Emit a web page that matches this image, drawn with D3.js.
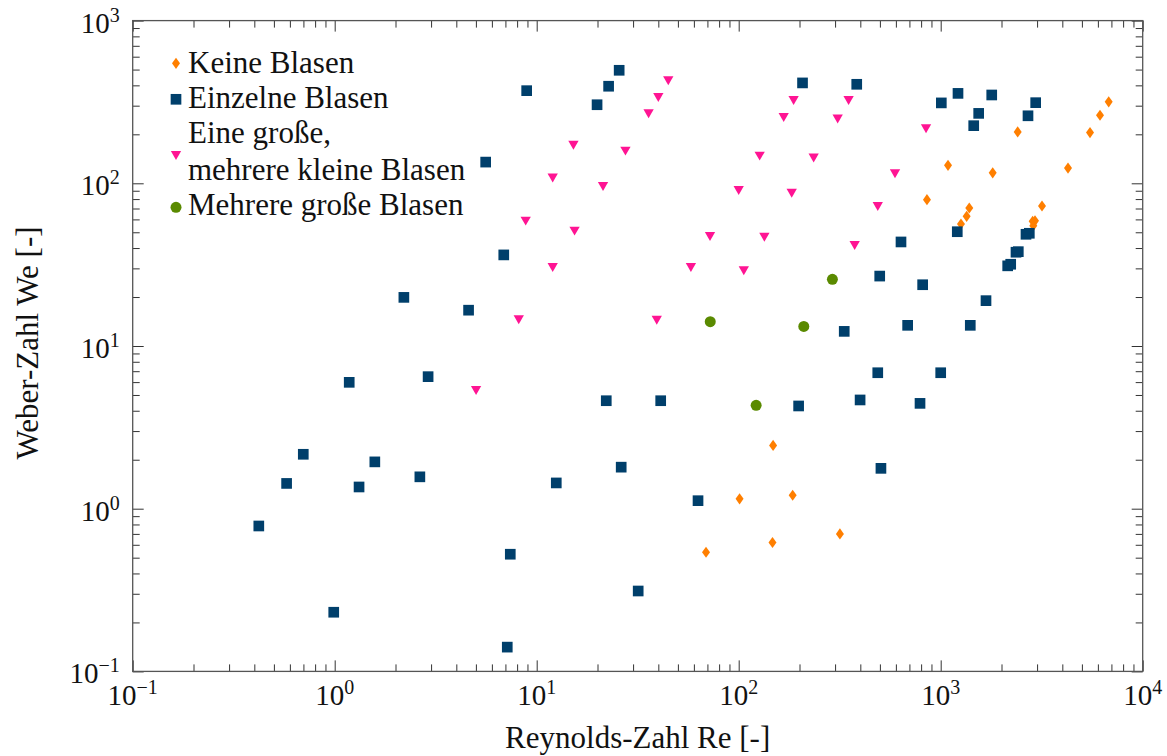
<!DOCTYPE html>
<html>
<head>
<meta charset="utf-8">
<script src="https://cdn.jsdelivr.net/npm/d3@7"></script>
<style>
  body { margin: 0; background: #fff; }
  svg { display: block; }
  svg text { font-family: "Liberation Serif", "DejaVu Serif", "Noto Serif", Tinos, FreeSerif, "Times New Roman", Times, serif; }
</style>
</head>
<body>
<script>
// Keine Blasen (orange diamonds)
var keineRe = [68.9, 101, 147, 148, 185, 317, 855, 1087, 1260, 1344, 1385, 1809, 2405, 2853, 2930, 2873, 3173, 4268, 5485, 6146, 6787]
var keineWe = [0.54, 1.15, 0.62, 2.45, 1.21, 0.70, 79.3, 129, 56.2, 62.7, 70.5, 116, 207, 58.4, 58.8, 54.9, 72.5, 124, 205, 262, 317]

// Einzelne Blasen (blue squares)
var einzelneRe = [0.421, 0.578, 0.699, 0.989, 1.18, 1.32, 1.58, 2.20, 2.64, 2.90, 4.60, 5.59, 6.87, 7.15, 7.40, 8.92, 12.5, 19.9, 22.1, 22.7,
    25.6, 26.2, 31.8, 41.1, 62.9, 198, 207, 333, 384, 399, 488, 499, 506, 636, 686, 790, 814, 1000, 1007, 1208,
    1218, 1401, 1457, 1542, 1676, 1789, 2146, 2221, 2359, 2422, 2644, 2746, 2705, 2953]
var einzelneWe = [0.783, 1.43, 2.16, 0.231, 5.98, 1.36, 1.94, 19.9, 1.57, 6.48, 16.6, 135, 36.3, 0.141, 0.525, 371, 1.44, 304, 4.61, 395,
    495, 1.80, 0.312, 4.61, 1.12, 4.28, 414, 12.3, 406, 4.66, 6.85, 26.9, 1.77, 43.6, 13.4, 4.44, 23.8, 6.85, 312, 50.4,
    357, 13.4, 226, 269, 19.0, 349, 31.1, 31.8, 37.7, 38.0, 48.6, 49.3, 260, 313]

// Eine grosse, mehrere kleine Blasen (magenta triangles)
var eineGrosseRe = [5.01, 8.15, 8.82, 12.0, 12.0, 15.2, 15.4, 21.3, 27.5, 35.8, 39.3, 40.0, 44.8, 58.0, 72.1, 106, 100, 127, 134, 167,
    183, 187, 235, 309, 350, 375, 488, 594, 846]
var eineGrosseWe = [5.44, 14.8, 59.8, 110, 31.0, 175, 51.9, 97.6, 161, 273, 14.7, 344, 436, 31.0, 48.1, 29.6, 92.2, 150, 47.6, 259,
    88.8, 330, 146, 254, 330, 42.4, 73.5, 117, 221]

// Mehrere grosse Blasen (green circles)
var mehrereRe = [72.3, 122, 210, 291]
var mehrereWe = [14.1, 4.32, 13.2, 25.7]

var xTickExp = [-1, 0, 1, 2, 3, 4]
var yTickExp = [-1, 0, 1, 2, 3]

var legendLabels = [["Keine Blasen"], ["Einzelne Blasen"], ["Eine große,", "mehrere kleine Blasen"], ["Mehrere große Blasen"]]

var width = 1167, height = 756
var margin = {top: 20.6, right: 24.3, bottom: 84.6, left: 132.7}

var x = d3.scaleLog().domain([0.1, 1e4]).range([margin.left, width - margin.right])
var y = d3.scaleLog().domain([0.1, 1e3]).range([height - margin.bottom, margin.top])

var svg = d3.select("body").append("svg").attr("width", width).attr("height", height)

// tick positions
function minorTicks(lo, hi) {
    var out = []
    for (var e = lo; e < hi; e++) {
        for (var k = 2; k <= 9; k++) out.push(k * Math.pow(10, e))
    }
    return out
}
var xMajor = xTickExp.map(function (e) { return Math.pow(10, e) })
var yMajor = yTickExp.map(function (e) { return Math.pow(10, e) })
var xMinor = minorTicks(-1, 4)
var yMinor = minorTicks(-1, 3)

function noDomain(g) { g.select(".domain").remove() }

var axes = svg.append("g").attr("color", "#333").attr("stroke-width", 1)
axes.append("g").attr("transform", "translate(0," + y.range()[0] + ")")
    .call(d3.axisBottom(x).tickValues(xMajor).tickSize(-11).tickFormat("")).call(noDomain)
axes.append("g").attr("transform", "translate(0," + y.range()[0] + ")")
    .call(d3.axisBottom(x).tickValues(xMinor).tickSize(-7).tickFormat("")).call(noDomain)
axes.append("g").attr("transform", "translate(0," + y.range()[1] + ")")
    .call(d3.axisTop(x).tickValues(xMajor).tickSize(-11).tickFormat("")).call(noDomain)
axes.append("g").attr("transform", "translate(0," + y.range()[1] + ")")
    .call(d3.axisTop(x).tickValues(xMinor).tickSize(-7).tickFormat("")).call(noDomain)
axes.append("g").attr("transform", "translate(" + x.range()[0] + ",0)")
    .call(d3.axisLeft(y).tickValues(yMajor).tickSize(-11).tickFormat("")).call(noDomain)
axes.append("g").attr("transform", "translate(" + x.range()[0] + ",0)")
    .call(d3.axisLeft(y).tickValues(yMinor).tickSize(-7).tickFormat("")).call(noDomain)
axes.append("g").attr("transform", "translate(" + x.range()[1] + ",0)")
    .call(d3.axisRight(y).tickValues(yMajor).tickSize(-11).tickFormat("")).call(noDomain)
axes.append("g").attr("transform", "translate(" + x.range()[1] + ",0)")
    .call(d3.axisRight(y).tickValues(yMinor).tickSize(-7).tickFormat("")).call(noDomain)

svg.append("rect")
    .attr("x", x.range()[0]).attr("y", y.range()[1])
    .attr("width", x.range()[1] - x.range()[0]).attr("height", y.range()[0] - y.range()[1])
    .attr("fill", "none").attr("stroke", "#555").attr("stroke-width", 1.3)

// tick labels 10^n
function powLabel(sel, e) {
    sel.append("tspan").text("10")
    sel.append("tspan").attr("dy", -11).attr("font-size", 20).text(e < 0 ? "\u2212" + (-e) : e)
}
svg.selectAll(".xlab").data(xTickExp).enter().append("text")
    .attr("class", "xlab")
    .attr("x", function (d) { return x(Math.pow(10, d)) })
    .attr("y", y.range()[0] + 34)
    .attr("text-anchor", "middle").attr("font-size", 29).attr("fill", "#111")
    .each(function (d) { powLabel(d3.select(this), d) })
svg.selectAll(".ylab").data(yTickExp).enter().append("text")
    .attr("class", "ylab")
    .attr("x", x.range()[0] - 13)
    .attr("y", function (d) { return y(Math.pow(10, d)) + 12 })
    .attr("text-anchor", "end").attr("font-size", 29).attr("fill", "#111")
    .each(function (d) { powLabel(d3.select(this), d) })

svg.append("text").attr("x", (x.range()[0] + x.range()[1]) / 2).attr("y", 748)
    .attr("text-anchor", "middle").attr("font-size", 31).attr("fill", "#111")
    .text("Reynolds-Zahl Re [-]")
svg.append("text").attr("transform", "translate(38,343) rotate(-90)")
    .attr("text-anchor", "middle").attr("font-size", 31).attr("fill", "#111")
    .text("Weber-Zahl We [-]")

// marker shapes
var rhombus = {
    draw: function (p, size) {
        var r = Math.sqrt(size) / 2
        p.moveTo(0, -r * 1.4); p.lineTo(r, 0); p.lineTo(0, r * 1.4); p.lineTo(-r, 0); p.closePath()
    }
}
var series = [
    {re: keineRe, we: keineWe, type: rhombus, size: 64, color: "#ff7f00", rot: 0},
    {re: einzelneRe, we: einzelneWe, type: d3.symbolSquare, size: 114, color: "#003f6b", rot: 0},
    {re: eineGrosseRe, we: eineGrosseWe, type: d3.symbolTriangle, size: 46, color: "#ff1493", rot: 180},
    {re: mehrereRe, we: mehrereWe, type: d3.symbolCircle, size: 95, color: "#5a8a00", rot: 0}
]

var plot = svg.append("g")
series.forEach(function (s) {
    var sym = d3.symbol().type(s.type).size(s.size)
    plot.append("g").selectAll("path").data(s.re).enter().append("path")
        .attr("d", sym)
        .attr("fill", s.color)
        .attr("transform", function (d, i) {
            return "translate(" + x(d) + "," + y(s.we[i]) + ") rotate(" + s.rot + ")"
        })
})

// legend
var legendRows = [{my: 63.3, ty: [72.7]}, {my: 99.3, ty: [108.3]}, {my: 154, ty: [143.3, 180]}, {my: 207.3, ty: [215]}]
var legend = svg.append("g")
legendRows.forEach(function (r, i) {
    var s = series[i]
    legend.append("path").attr("d", d3.symbol().type(s.type).size(s.size))
        .attr("fill", s.color)
        .attr("transform", "translate(176," + r.my + ") rotate(" + s.rot + ")")
    legendLabels[i].forEach(function (t, j) {
        legend.append("text").attr("x", 188).attr("y", r.ty[j])
            .attr("font-size", 31).attr("fill", "#111").text(t)
    })
})
</script>
</body>
</html>
